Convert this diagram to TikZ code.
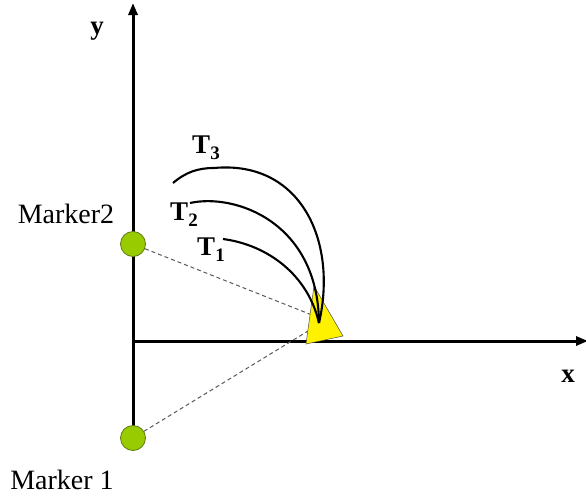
\documentclass[tikz,border=0pt]{standalone}
\usepackage{fontspec}
\setmainfont{Liberation Serif}
\usetikzlibrary{arrows.meta}
\definecolor{mgreen}{HTML}{99CC00}
\definecolor{mgreenline}{HTML}{5A7A10}
\newcommand{\tsub}[2]{#1\raisebox{-6pt}{\fontsize{19}{19}\selectfont #2}}
\begin{document}
\begin{tikzpicture}[x=1pt,y=-1pt,
  axis/.style={line width=3pt,-{Triangle[length=12pt,width=9pt]}},
  marker/.style={circle,fill=mgreen,draw=mgreenline,line width=0.8pt,minimum size=25pt,inner sep=0pt},
  track/.style={line width=2.1pt,black},
  sight/.style={gray!70!black,line width=1pt,dash pattern=on 4pt off 3pt},
  lbl/.style={font=\fontsize{28}{30}\selectfont,inner sep=0pt},
  blbl/.style={font=\fontsize{27}{30}\selectfont\bfseries,inner sep=0pt}]
\useasboundingbox (0,0) rectangle (586,498);
\coordinate (o) at (133,341);
\coordinate (ytop) at (133,3);
\coordinate (ybot) at (133,438);
\coordinate (xend) at (588,341);
\draw[line width=3pt] (ybot) -- (o);
\draw[axis] (o) -- (ytop);
\draw[axis] (o) -- (xend);
\node[blbl] (ylab) at (97,31) {y};
\node[blbl] (xlab) at (568,376) {x};
% sight lines
\coordinate (t2) at (312,315);
\coordinate (t1) at (308,331);
\node[marker] (m2) at (133,244) {};
\node[marker] (m1) at (133,438) {};
\draw[sight] (m2) -- (t2);
\draw[sight] (m1) -- (t1);
% triangle
\coordinate (ta) at (314,286);
\coordinate (tb) at (306,344);
\coordinate (tc) at (343,336);
\draw[fill=yellow,draw=black!70,line width=0.5pt] (ta) -- (tb) -- (tc) -- cycle;
% tracks
\coordinate (e) at (319,323);
\draw[track] (223,239) .. controls (268,245) and (308,275) .. (e);
\draw[track] (190,203) .. controls (235,193) and (318,222) .. (e);
\draw[track] (173,183) .. controls (186,172) and (198,168) .. (214,168)
  .. controls (300,160) and (338,240) .. (e);
% labels
\node[blbl] (T3) at (206,148) {\tsub{T}{3}};
\node[blbl] (T2) at (184,215) {\tsub{T}{2}};
\node[blbl] (T1) at (211,250) {\tsub{T}{1}};
\node[lbl] (m2l) at (66,214) {Marker2};
\node[lbl] (m1l) at (62,480) {Marker 1};
\end{tikzpicture}
\end{document}
